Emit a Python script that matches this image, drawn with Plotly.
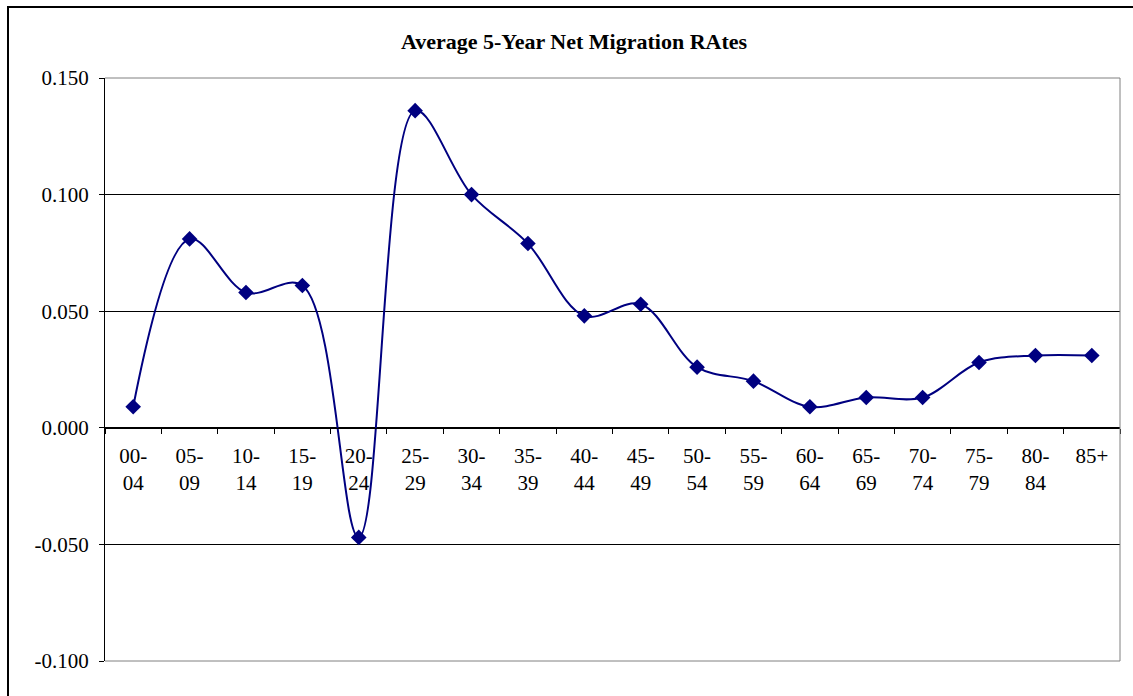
import plotly.graph_objects as go

# Age groups and their average 5-year net migration rates
age_groups = ["00-<br>04", "05-<br>09", "10-<br>14", "15-<br>19", "20-<br>24", "25-<br>29",
              "30-<br>34", "35-<br>39", "40-<br>44", "45-<br>49", "50-<br>54", "55-<br>59",
              "60-<br>64", "65-<br>69", "70-<br>74", "75-<br>79", "80-<br>84", "85+"]
net_migration = [0.009, 0.081, 0.058, 0.061, -0.047, 0.136,
                 0.100, 0.079, 0.048, 0.053, 0.026, 0.020,
                 0.009, 0.013, 0.013, 0.028, 0.031, 0.031]

y_tick_values = [-0.100, -0.050, 0.000, 0.050, 0.100, 0.150]
y_tick_labels = ["-0.100", "-0.050", "0.000", "0.050", "0.100", "0.150"]

title_text = "Average 5-Year Net Migration RAtes"

serif = "Liberation Serif, Times New Roman, serif"
navy = "#000080"

# plot area in pixels: left 105, right 1120, top 78, bottom 661
W, H = 1133, 696
L, R, T, B = 105, 1120, 78, 661
pw, ph = R - L, B - T


def px_x(x):
    return (x - L) / pw


def px_y(y):
    return (B - y) / ph


fig = go.Figure()
fig.add_trace(go.Scatter(
    x=age_groups, y=net_migration,
    mode="lines+markers",
    line=dict(color=navy, width=2, shape="spline", smoothing=1.0),
    marker=dict(symbol="diamond", size=12, color=navy),
    cliponaxis=False,
    showlegend=False,
))

fig.update_layout(
    width=W, height=H,
    margin=dict(l=L, r=W - R, t=T, b=H - B, pad=0),
    paper_bgcolor="white", plot_bgcolor="white",
    font=dict(family=serif, size=21, color="black"),
    title=dict(text="<b>" + title_text + "</b>", x=574 / W,
               xanchor="center", y=1 - 41 / H, yanchor="middle",
               font=dict(family=serif, size=22, color="black")),
    xaxis=dict(
        type="category", anchor="free", position=0.4,
        range=[-0.5, len(age_groups) - 0.5],
        showline=True, linecolor="black", linewidth=1,
        ticks="outside", tickson="boundaries", ticklen=5, tickcolor="black",
        showgrid=False, zeroline=False,
        tickfont=dict(family=serif, size=21, color="black"),
        ticklabelstandoff=9,
        automargin=False,
    ),
    yaxis=dict(
        range=[-0.1, 0.15], tickvals=y_tick_values, ticktext=y_tick_labels,
        showline=True, linecolor="black", linewidth=1,
        ticks="outside", ticklen=5, tickcolor="black",
        showgrid=True, gridcolor="black", gridwidth=1,
        zeroline=True, zerolinecolor="black", zerolinewidth=1,
        tickfont=dict(family=serif, size=21, color="black"),
        ticklabelstandoff=6,
        automargin=False,
    ),
    shapes=[
        # outer chart frame
        dict(type="rect", xref="paper", yref="paper",
             x0=px_x(8), x1=px_x(1145), y0=px_y(710), y1=px_y(7),
             line=dict(color="black", width=2), fillcolor="rgba(0,0,0,0)", layer="above"),
        # plot area border (top, right, bottom)
        dict(type="line", xref="paper", yref="paper", x0=0, x1=1, y0=1, y1=1,
             line=dict(color="#808080", width=1), layer="above"),
        dict(type="line", xref="paper", yref="paper", x0=1, x1=1, y0=0, y1=1,
             line=dict(color="#808080", width=1), layer="above"),
        dict(type="line", xref="paper", yref="paper", x0=0, x1=1, y0=0, y1=0,
             line=dict(color="#808080", width=1), layer="above"),
    ],
)

fig.write_html("out.html")
